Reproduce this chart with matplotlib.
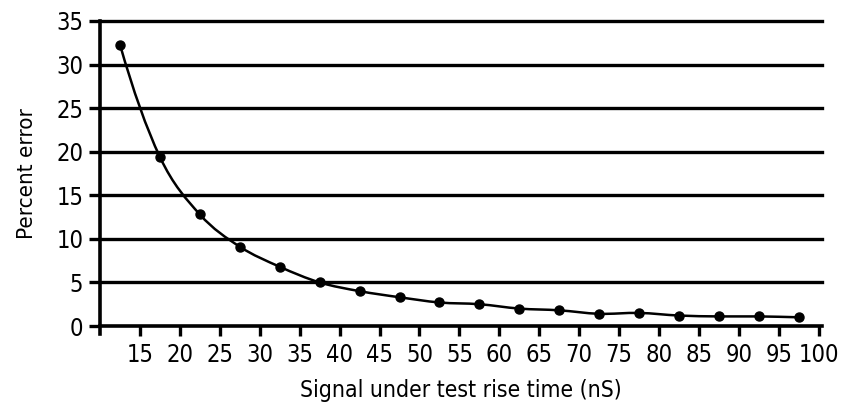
import numpy as np
import matplotlib.pyplot as plt
from matplotlib.path import Path
from matplotlib.patches import PathPatch

# rise time (nS) and percent error
rise_time = [12.5, 17.5, 22.5, 27.5, 32.5, 37.5, 42.5, 47.5, 52.5,
             57.5, 62.5, 67.5, 72.5, 77.5, 82.5, 87.5, 92.5, 97.5]
pct_error = [32.3, 19.4, 12.8, 9.1, 6.8, 5.0, 4.0, 3.3, 2.7,
             2.5, 2.0, 1.8, 1.4, 1.5, 1.2, 1.1, 1.1, 1.0]

x_ticks = list(range(15, 101, 5))
y_ticks = list(range(0, 36, 5))

plt.rcParams['font.family'] = ['DejaVu Sans']
plt.rcParams['font.stretch'] = 'condensed'

fig = plt.figure(figsize=(8.46, 4.07), dpi=100)
ax = fig.add_axes([100 / 846, 81 / 407, 722 / 846, 305 / 407])

# horizontal grid lines
for y in y_ticks[1:]:
    ax.axhline(y, color='black', lw=2.4, zorder=1, clip_on=False)

# smooth line through the points (cubic hermite -> bezier)
x = np.array(rise_time)
y = np.array(pct_error)
n = len(x)
d = np.zeros(n)
d[1:-1] = (y[2:] - y[:-2]) / (x[2:] - x[:-2])
s0 = (y[1] - y[0]) / (x[1] - x[0])
sn = (y[-1] - y[-2]) / (x[-1] - x[-2])
d[0] = 2 * s0 - d[1]
d[-1] = sn
verts = [(x[0], y[0])]
codes = [Path.MOVETO]
for i in range(n - 1):
    h = x[i + 1] - x[i]
    verts += [(x[i] + h / 3, y[i] + d[i] * h / 3),
              (x[i + 1] - h / 3, y[i + 1] - d[i + 1] * h / 3),
              (x[i + 1], y[i + 1])]
    codes += [Path.CURVE4] * 3
ax.add_patch(PathPatch(Path(verts, codes), fill=False, lw=1.8,
                       edgecolor='black', zorder=3))
ax.plot(rise_time, pct_error, 'o', color='black', ms=6.5, zorder=4)

ax.set_xlim(10, 100.4)
ax.set_ylim(0, 35)
ax.set_xticks(x_ticks)
ax.set_yticks(y_ticks)
ax.tick_params(axis='x', direction='out', length=7, width=2.4,
               labelsize=17, pad=5)
ax.tick_params(axis='y', direction='out', length=8, width=2.4,
               labelsize=17, pad=4)

for s in ['top', 'right']:
    ax.spines[s].set_visible(False)
ax.spines['left'].set_linewidth(2.6)
ax.spines['bottom'].set_linewidth(2.6)
ax.spines['left'].set_bounds(-0.9, 35)

ax.set_xlabel('Signal under test rise time (nS)', fontsize=16.5, labelpad=9)
ax.set_ylabel('Percent error', fontsize=16, labelpad=14)

fig.savefig('out.png', dpi=100)
